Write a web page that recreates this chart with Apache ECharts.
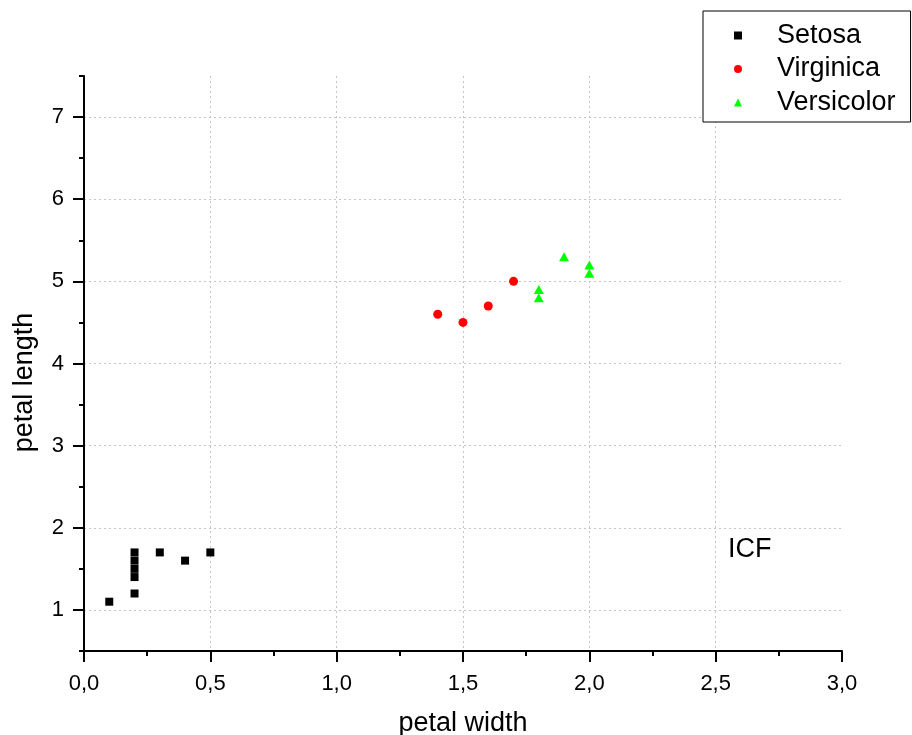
<!DOCTYPE html>
<html>
<head>
<meta charset="utf-8">
<script src="https://cdn.jsdelivr.net/npm/echarts@6/dist/echarts.min.js"></script>
<style>
  html, body { margin: 0; padding: 0; background: #fff; }
  #chart { width: 912px; height: 735px; }
</style>
</head>
<body>
<div id="chart"></div>
<script>
// Iris petal measurements: [petal width, petal length]
const setosa = [[0.1, 1.1], [0.2, 1.2], [0.2, 1.4], [0.2, 1.5], [0.2, 1.6], [0.2, 1.7], [0.3, 1.7], [0.4, 1.6], [0.5, 1.7]];
const virginica = [[1.4, 4.6], [1.5, 4.5], [1.6, 4.7], [1.7, 5.0]];
const versicolor = [[1.8, 4.8], [1.8, 4.9], [1.9, 5.3], [2.0, 5.1], [2.0, 5.2]];

// Axis ticks
const yMajorTicks = [1, 2, 3, 4, 5, 6, 7];
const yMinorTicks = [0.5, 1.5, 2.5, 3.5, 4.5, 5.5, 6.5, 7.5];

const FONT = '"Liberation Sans", Arial, sans-serif';
const gridLine = { show: true, lineStyle: { color: '#c4c4c4', width: 1, type: [2, 3] } };

const chart = echarts.init(document.getElementById('chart'), null, { renderer: 'canvas' });

chart.setOption({
  animation: false,
  backgroundColor: '#ffffff',
  textStyle: { fontFamily: FONT, color: '#000' },
  grid: { left: 84, right: 70, top: 76, bottom: 84, containLabel: false, outerBoundsMode: 'none' },
  legend: {
    orient: 'vertical',
    left: 703,
    top: 11,
    padding: [11, 15, 6, 31],
    itemGap: 6.5,
    itemWidth: 8,
    itemHeight: 8,
    borderColor: '#000',
    borderWidth: 1,
    backgroundColor: '#fff',
    textStyle: { fontFamily: FONT, fontSize: 27, color: '#000', lineHeight: 27, padding: [0, 0, 0, 30] },
    data: [
      { name: 'Setosa', icon: 'rect' },
      { name: 'Virginica', icon: 'circle' },
      { name: 'Versicolor', icon: 'triangle' }
    ]
  },
  xAxis: {
    type: 'value',
    min: 0,
    max: 3,
    interval: 0.5,
    name: 'petal width',
    nameLocation: 'middle',
    nameGap: 59,
    nameTextStyle: { fontFamily: FONT, fontSize: 27, color: '#000' },
    axisLine: { onZero: false, lineStyle: { color: '#000', width: 2 } },
    axisTick: { show: true, inside: false, length: 11, lineStyle: { color: '#000', width: 2 } },
    minorTick: { show: true, splitNumber: 2, length: 5, lineStyle: { color: '#000', width: 2 } },
    axisLabel: {
      margin: 22,
      fontFamily: FONT,
      fontSize: 22,
      color: '#000',
      formatter: v => v.toFixed(1).replace('.', ',')
    },
    splitLine: Object.assign({ showMinLine: false, showMaxLine: false }, gridLine)
  },
  yAxis: [
    {
      type: 'value',
      position: 'left',
      min: 0.5,
      max: 7.5,
      interval: 0.5,
      name: 'petal length',
      nameLocation: 'middle',
      nameGap: 46,
      nameTextStyle: { fontFamily: FONT, fontSize: 27, color: '#000', padding: [0, 38, 0, 0] },
      axisLine: { show: true, onZero: false, lineStyle: { color: '#000', width: 2 } },
      axisTick: { show: true, inside: false, length: 11, customValues: yMajorTicks, lineStyle: { color: '#000', width: 2 } },
      axisLabel: {
        margin: 20,
        fontFamily: FONT,
        fontSize: 22,
        color: '#000',
        customValues: yMajorTicks,
        formatter: v => String(v)
      },
      splitLine: Object.assign({ showMinLine: true, showMaxLine: true }, gridLine)
    },
    {
      // short ticks at the half units
      type: 'value',
      position: 'left',
      offset: 0,
      min: 0.5,
      max: 7.5,
      interval: 0.5,
      axisLine: { show: false },
      axisTick: { show: true, inside: false, length: 5, customValues: yMinorTicks, lineStyle: { color: '#000', width: 2 } },
      axisLabel: { show: false },
      splitLine: { show: false }
    }
  ],
  series: [
    {
      name: 'Setosa',
      type: 'scatter',
      yAxisIndex: 0,
      symbol: 'rect',
      symbolSize: 8,
      itemStyle: { color: '#000000', opacity: 1 },
      data: setosa
    },
    {
      name: 'Virginica',
      type: 'scatter',
      yAxisIndex: 0,
      symbol: 'circle',
      symbolSize: 9,
      itemStyle: { color: '#ff0000', opacity: 1 },
      data: virginica
    },
    {
      name: 'Versicolor',
      type: 'scatter',
      yAxisIndex: 0,
      symbol: 'triangle',
      symbolSize: [10, 9],
      itemStyle: { color: '#00ff00', opacity: 1 },
      data: versicolor
    }
  ],
  graphic: [
    {
      type: 'text',
      left: 728,
      top: 536,
      style: { text: 'ICF', font: '27px ' + FONT, fill: '#000' }
    }
  ]
});
</script>
</body>
</html>
